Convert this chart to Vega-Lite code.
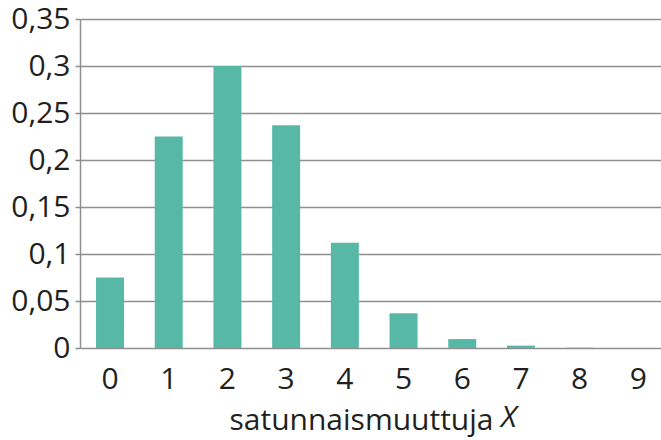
{
  "$schema": "https://vega.github.io/schema/vega-lite/v6.json",
  "width": 581,
  "height": 329,
  "autosize": {"type": "none"},
  "padding": {"left": 80, "top": 19, "right": 0, "bottom": 92},
  "background": "white",
  "config": {
    "view": {"stroke": null},
    "font": "Open Sans"
  },
  "title": {
    "text": "X",
    "orient": "bottom",
    "anchor": "start",
    "frame": "group",
    "font": "Open Sans",
    "fontSize": 30,
    "fontStyle": "italic",
    "fontWeight": "normal",
    "color": "#231f20",
    "dx": 421,
    "dy": -32,
    "offset": 0
  },
  "data": {
    "values": [
      {"x": "0", "p": 0.075},
      {"x": "1", "p": 0.225},
      {"x": "2", "p": 0.300},
      {"x": "3", "p": 0.237},
      {"x": "4", "p": 0.112},
      {"x": "5", "p": 0.037},
      {"x": "6", "p": 0.0095},
      {"x": "7", "p": 0.0025},
      {"x": "8", "p": 0.0003},
      {"x": "9", "p": 0.0}
    ]
  },
  "mark": {"type": "bar", "color": "#58b8a8"},
  "encoding": {
    "x": {
      "field": "x",
      "type": "ordinal",
      "sort": null,
      "scale": {"paddingInner": 0.523, "paddingOuter": 0.21, "align": 0.65},
      "axis": {
        "title": "satunnaismuuttuja",
        "titleFont": "Open Sans",
        "titleFontSize": 30,
        "titleFontWeight": "normal",
        "titleColor": "#231f20",
        "titlePadding": 11,
        "titleX": 281,
        "titleAlign": "center",
        "labelAngle": 0,
        "labelFont": "Open Sans",
        "labelFontSize": 30,
        "labelColor": "#231f20",
        "labelPadding": 16,
        "ticks": false,
        "tickSize": 0,
        "domain": false,
        "grid": false
      }
    },
    "y": {
      "field": "p",
      "type": "quantitative",
      "scale": {"domain": [0, 0.35], "nice": false},
      "axis": {
        "title": null,
        "values": [0, 0.05, 0.1, 0.15, 0.2, 0.25, 0.3, 0.35],
        "labelExpr": "replace(format(datum.value, '.2~f'), '.', ',')",
        "labelFont": "Open Sans",
        "labelFontSize": 30,
        "labelColor": "#231f20",
        "labelPadding": 5,
        "tickSize": 5,
        "tickColor": "#8f8f8f",
        "tickWidth": 1.5,
        "domainColor": "#8f8f8f",
        "domainWidth": 1.5,
        "grid": true,
        "gridColor": "#8f8f8f",
        "gridWidth": 1.5
      }
    }
  }
}
